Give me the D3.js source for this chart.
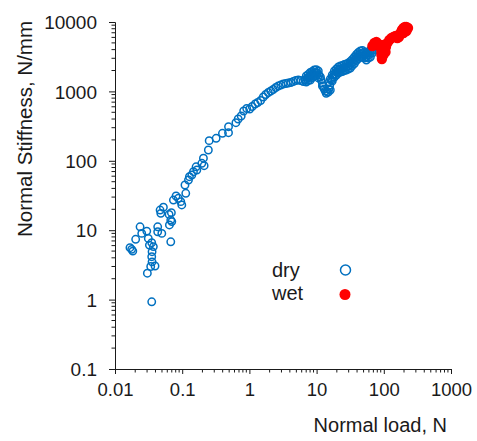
<!DOCTYPE html>
<html>
<head>
<meta charset="utf-8">
<script src="https://cdn.jsdelivr.net/npm/d3@7"></script>
<style>
  body { margin: 0; background: #fff; }
  svg text { font-family: "Liberation Sans", Arial, sans-serif; fill: #1a1a1a; }
</style>
</head>
<body>
<script>
// dry: normal load (N) and normal stiffness (N/mm)
var dryLoad = [
  0.0167, 0.0184, 0.0177, 0.0203, 0.0236, 0.025, 0.0297, 0.0313, 0.0325, 0.0352, 0.0372, 0.0356,
  0.0352, 0.0356, 0.034, 0.0394, 0.0303, 0.0352, 0.0432, 0.0432, 0.0497, 0.0676, 0.0469, 0.0525,
  0.048, 0.0638, 0.069, 0.0676, 0.0645, 0.070, 0.074, 0.081, 0.0877, 0.0953, 0.0986, 0.113,
  0.110, 0.124, 0.128, 0.139, 0.147, 0.161, 0.165, 0.196, 0.212, 0.207, 0.245, 0.252,
  0.32, 0.397, 0.489, 0.489, 0.63,
  0.681, 0.755, 0.822, 0.912, 1.01, 1.10, 1.22, 1.33, 1.47, 1.61, 1.75, 1.91, 2.08, 2.26, 2.47,
  2.69, 2.93, 3.19, 3.48, 3.79, 4.13, 4.50, 4.90, 5.34, 5.81, 6.34,
  6.79, 7.14, 7.52, 7.92, 8.34, 8.78, 9.24, 9.73, 10.2, 10.8, 11.4, 11.7, 12.2, 12.6, 13.0, 13.5,
  14.2, 14.9, 15.2, 15.7, 16.6, 17.4, 18.4, 19.7, 21.1, 22.6, 24.2, 25.9, 27.7, 29.7, 31.8, 34.0,
  36.5, 39.1, 41.8, 44.8, 48.0, 51.4, 55.0, 59.0, 63.1, 67.6, 71.2, 74.9,
  7.02, 8.06, 9.24, 10.6, 16.0, 18.4, 21.1, 24.2, 27.7, 31.8, 36.5, 41.8, 48.0, 55.0, 63.1,
  7.02, 8.06, 9.24, 10.6, 12.2, 13.9, 16.0, 18.4, 21.1, 24.2, 27.7, 31.8, 36.5, 41.8, 48.0, 55.0,
  63.1, 72.4,
  7.52, 8.63, 9.90, 17.1, 19.7, 22.6, 25.9, 29.7, 34.0, 39.1, 44.8, 51.4, 59.0, 67.6,
  7.52, 8.63, 9.90, 17.1, 19.7, 22.6, 25.9, 29.7, 34.0, 39.1, 44.8, 51.4, 59.0, 67.6
];
var dryStiff = [
  5.6, 5.0, 5.3, 7.4, 11.2, 9.0, 9.7, 7.6, 6.1, 6.6, 5.8, 4.9,
  4.15, 3.5, 3.0, 3.05, 2.4, 0.93, 11.2, 9.5, 9.0, 6.8, 19.5, 21.4,
  17.5, 16.9, 17.9, 14.0, 11.9, 13.3, 27.2, 31.1, 28.8, 25.8, 23.1, 34,
  44.8, 52.9, 59, 62.4, 69.7, 82, 73.6, 92, 85, 109, 143, 195,
  211, 249, 310, 254, 354,
  400, 442, 522, 567, 558, 606, 658, 692, 739, 830, 902, 964, 1013, 1065, 1138,
  1196, 1237, 1278, 1300, 1321, 1343, 1389, 1436, 1460, 1436, 1389,
  1460, 1534, 1586, 1613, 1695, 1781, 1841, 1872, 1841, 1723, 1613, 1460, 1321, 1196, 1083, 1010,
  990, 975, 1083, 1237, 1460, 1613, 1781, 1904, 2034, 2103, 2138, 2210, 2247, 2323, 2441, 2609,
  2835, 3080, 3291, 3459, 3517, 3346, 3183, 3346, 3575, 3950, 4363, 4981,
  1667, 1872, 2034, 1967, 1509, 1967, 2247, 2362, 2483, 2697, 3131, 3635, 3885, 3575, 3950,
  1366, 1460, 1667, 1561, 1196, 940, 1047, 1613, 1841, 1935, 2034, 2174, 2523, 2981, 3131, 2835,
  3131, 3950,
  1751, 1935, 2055, 1723, 2103, 2323, 2441, 2566, 2883, 3401, 3820, 3696, 3696, 4363,
  1436, 1586, 1684, 1412, 1723, 1904, 2001, 2103, 2362, 2788, 3131, 3029, 3029, 3575
];
// wet
var wetLoad = [
  67.6, 72.4, 77.6, 83.1, 89.0, 92.1, 92.1, 93.7, 98.6, 102, 107.5, 113, 121, 130, 139, 149,
  159, 168, 177, 186, 196, 206, 217, 229, 217, 196, 171, 106, 98.6
];
var wetStiff = [
  4510, 4981, 5150, 4820, 4363, 3820, 3346, 2932, 3346, 3820, 4363, 4981, 5504, 5883, 6082, 6285,
  5883, 6082, 6942, 7670, 8197, 8472, 8472, 8197, 7419, 6942, 6494, 3696, 4663
];

var xMajor = [0.01, 0.1, 1, 10, 100, 1000];
var xLabels = ["0.01", "0.1", "1", "10", "100", "1000"];
var yMajor = [0.1, 1, 10, 100, 1000, 10000];
var yLabels = ["0.1", "1", "10", "100", "1000", "10000"];
var seriesNames = ["dry", "wet"];

var width = 477, height = 441;
var blue = "#0070C0", red = "#FF0000";

var svg = d3.select("body").append("svg")
    .attr("width", width)
    .attr("height", height);

var x = d3.scaleLog().domain([0.01, 1000]).range([115, 451]);
var y = d3.scaleLog().domain([0.1, 10000]).range([369, 22]);

function minorTicks(majors) {
    var out = [];
    majors.slice(0, -1).forEach(function (m) {
        for (var k = 2; k <= 9; k++) out.push(m * k);
    });
    return out;
}

// x axis
var xAxis = svg.append("g").attr("transform", "translate(0,369)");
xAxis.call(d3.axisBottom(x).tickValues(xMajor).tickSize(5).tickFormat(function (d, i) { return xLabels[i]; }));
xAxis.call(function (g) {
    g.selectAll(".minor").data(minorTicks(xMajor)).enter().append("line")
        .attr("class", "minor")
        .attr("x1", function (d) { return x(d); }).attr("x2", function (d) { return x(d); })
        .attr("y1", 0).attr("y2", 3.5).attr("stroke", "#1a1a1a");
});
xAxis.selectAll(".tick text").attr("dy", null).attr("y", 27).style("font-size", "18.5px");

// y axis
var yAxis = svg.append("g").attr("transform", "translate(115,0)");
yAxis.call(d3.axisLeft(y).tickValues(yMajor).tickSize(6).tickFormat(function (d, i) { return yLabels[i]; }));
yAxis.call(function (g) {
    g.selectAll(".minor").data(minorTicks(yMajor)).enter().append("line")
        .attr("class", "minor")
        .attr("y1", function (d) { return y(d); }).attr("y2", function (d) { return y(d); })
        .attr("x1", 0).attr("x2", -3.5).attr("stroke", "#1a1a1a");
});
yAxis.selectAll(".tick text").attr("x", -18).attr("dy", "0.35em").style("font-size", "19px");

svg.selectAll(".domain, .tick line").attr("stroke", "#1a1a1a").attr("stroke-width", 1);

// axis titles
svg.append("text")
    .attr("x", 447).attr("y", 432)
    .attr("text-anchor", "end")
    .style("font-size", "20px")
    .text("Normal load, N");

svg.append("text")
    .attr("transform", "translate(31.5,129) rotate(-90)")
    .attr("text-anchor", "middle")
    .style("font-size", "20.5px")
    .text("Normal Stiffness, N/mm");

// points
svg.append("g").selectAll("circle")
    .data(d3.range(dryLoad.length))
    .enter().append("circle")
    .attr("cx", function (i) { return x(dryLoad[i]); })
    .attr("cy", function (i) { return y(dryStiff[i]); })
    .attr("r", 3.7)
    .attr("fill", "none")
    .attr("stroke", blue)
    .attr("stroke-width", 1.5);

svg.append("g").selectAll("circle")
    .data(d3.range(wetLoad.length))
    .enter().append("circle")
    .attr("cx", function (i) { return x(wetLoad[i]); })
    .attr("cy", function (i) { return y(wetStiff[i]); })
    .attr("r", 5.2)
    .attr("fill", red);

// legend
var legend = svg.append("g");
legend.append("text").attr("x", 272).attr("y", 277).style("font-size", "20px").text(seriesNames[0]);
legend.append("text").attr("x", 272).attr("y", 300).style("font-size", "20px").text(seriesNames[1]);
legend.append("circle").attr("cx", 345.5).attr("cy", 270).attr("r", 5)
    .attr("fill", "none").attr("stroke", blue).attr("stroke-width", 1.5);
legend.append("circle").attr("cx", 345).attr("cy", 294.5).attr("r", 5.5)
    .attr("fill", red);
</script>
</body>
</html>
